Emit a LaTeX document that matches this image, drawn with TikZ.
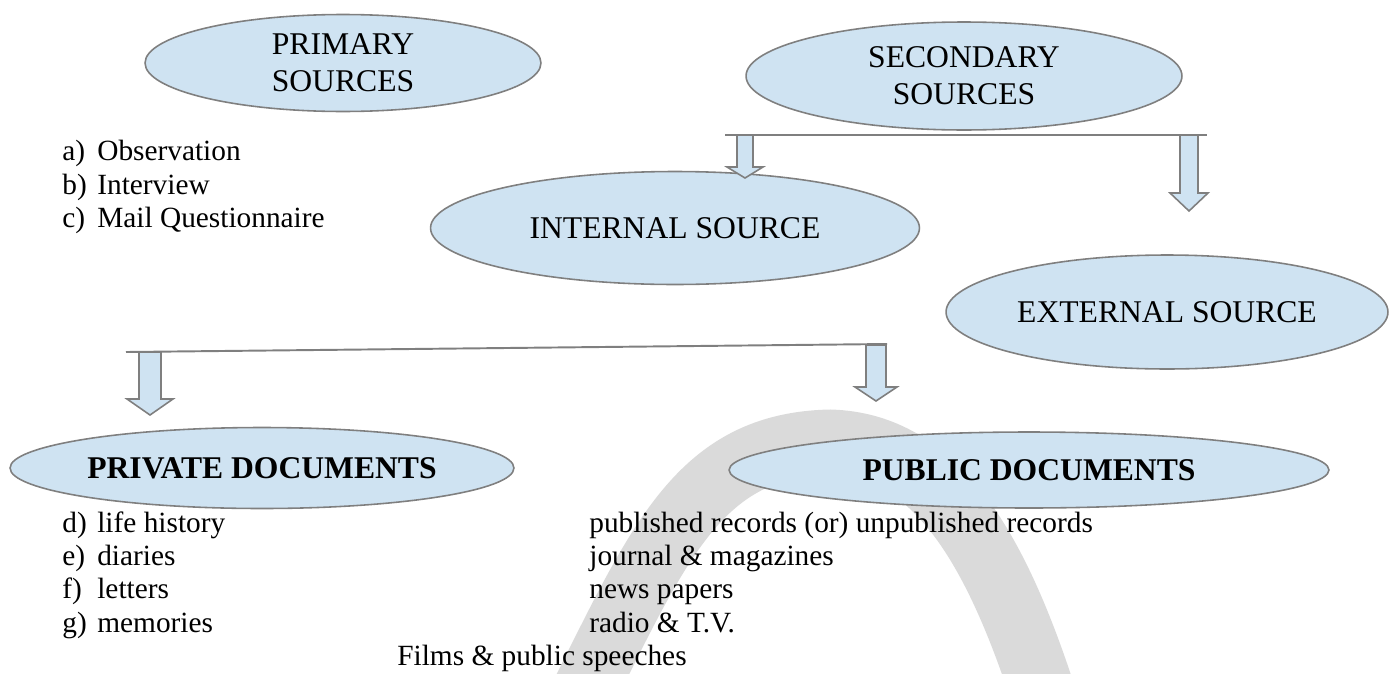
\documentclass[tikz,border=0pt]{standalone}
\usepackage{fontspec}
\setmainfont{Liberation Serif}
\usepackage{tikz}
\usetikzlibrary{calc, shapes.geometric}
\definecolor{boxblue}{RGB}{207,227,242}
\definecolor{edgegray}{RGB}{127,127,127}
\definecolor{markgray}{RGB}{218,218,218}
\newcommand{\titlefont}{\fontsize{18}{21}\selectfont}
\newcommand{\listfont}{\fontsize{16.7}{19}\selectfont}
\newcommand{\itm}[2]{\makebox[0.7cm][l]{#1}#2}
\tikzset{
srcell/.style={ellipse, draw=edgegray, fill=boxblue, line width=0.9pt, inner sep=0pt, align=center, font=\titlefont}, % the blue source bubbles
ellsize/.style 2 args={minimum width=#1, minimum height=#2},
bar/.style={draw=edgegray, line width=1.1pt},
% hollow block arrow: shaft half width, head half width, head length
blockarr/.style n args={3}{draw=edgegray, fill=boxblue, line width=0.9pt, line join=miter,
  to path={($(\tikztostart)+(-#1,0)$) -- ($(\tikztotarget)+(-#1,-#3)$) -- ($(\tikztotarget)+(-#2,-#3)$)
    -- (\tikztotarget) -- ($(\tikztotarget)+(#2,-#3)$) -- ($(\tikztotarget)+(#1,-#3)$) -- ($(\tikztostart)+(#1,0)$) -- cycle}},
listtext/.style={anchor=base west, inner sep=0pt, align=left, font=\listfont}, % base = last line
}

\begin{document}
\begin{tikzpicture}[x=0.02cm, y=-0.02cm]%pixel grid, y downwards
  \useasboundingbox (0,0) rectangle (1389,673);
  % watermark arch behind everything
  \draw[markgray, line width=1.3cm] (580,700) .. controls (660,540) and (700,445) .. (830,442)
    .. controls (935,445) and (995,545) .. (1045,700);

  \node[srcell, ellsize={7.92cm}{1.94cm}] (prim) at (343,63) {PRIMARY\\SOURCES};
  \node[srcell, ellsize={8.72cm}{2.16cm}] (sec) at (964,76) {SECONDARY\\SOURCES};
  \node[srcell, ellsize={9.78cm}{2.26cm}] (int) at (675,228) {INTERNAL SOURCE};
  \node[srcell, ellsize={8.84cm}{2.28cm}] (ext) at (1167,312) {EXTERNAL SOURCE};
  \node[srcell, ellsize={10.08cm}{1.62cm}, font=\titlefont\bfseries] (priv) at (262,468) {PRIVATE DOCUMENTS};
  \node[srcell, ellsize={12cm}{1.52cm}, font=\titlefont\bfseries] (pub) at (1029,470) {PUBLIC DOCUMENTS};

  \node[listtext] (primlist) at (62,227.7) {\itm{a)}{Observation}\\ \itm{b)}{Interview}\\ \itm{c)}{Mail Questionnaire}};
  \node[listtext] (privlist) at (62,632.2) {\itm{d)}{life history}\\ \itm{e)}{diaries}\\ \itm{f)}{letters}\\ \itm{g)}{memories}};
  \node[listtext] (publist) at (589,632.2) {published records (or) unpublished records\\ journal \& magazines\\ news papers\\ radio \& T.V.};
  \node[listtext] (films) at (397,665) {Films \& public speeches};

  % secondary split
  \coordinate (secbarL) at (725,135);
  \coordinate (secbarR) at (1207,135);
  \coordinate (toint) at (745,135);
  \coordinate (inttip) at (745,178);
  \coordinate (toext) at (1189,135);
  \coordinate (exttip) at (1189,211);
  \draw[bar] (secbarL) -- (secbarR);
  \draw[blockarr={8}{18}{11}] (toint) to (inttip);
  \draw[blockarr={9}{19}{18}] (toext) to (exttip);

  % internal split
  \coordinate (docbarL) at (126,352);
  \coordinate (docbarR) at (887,344);
  \coordinate (topriv) at (150,352);
  \coordinate (privtip) at (150,415);
  \coordinate (topub) at (876,345);
  \coordinate (pubtip) at (876,401);
  \draw[bar] (docbarL) -- (docbarR);
  \draw[blockarr={11}{23}{16}] (topriv) to (privtip);
  \draw[blockarr={10}{21}{14}] (topub) to (pubtip);
\end{tikzpicture}
\end{document}
